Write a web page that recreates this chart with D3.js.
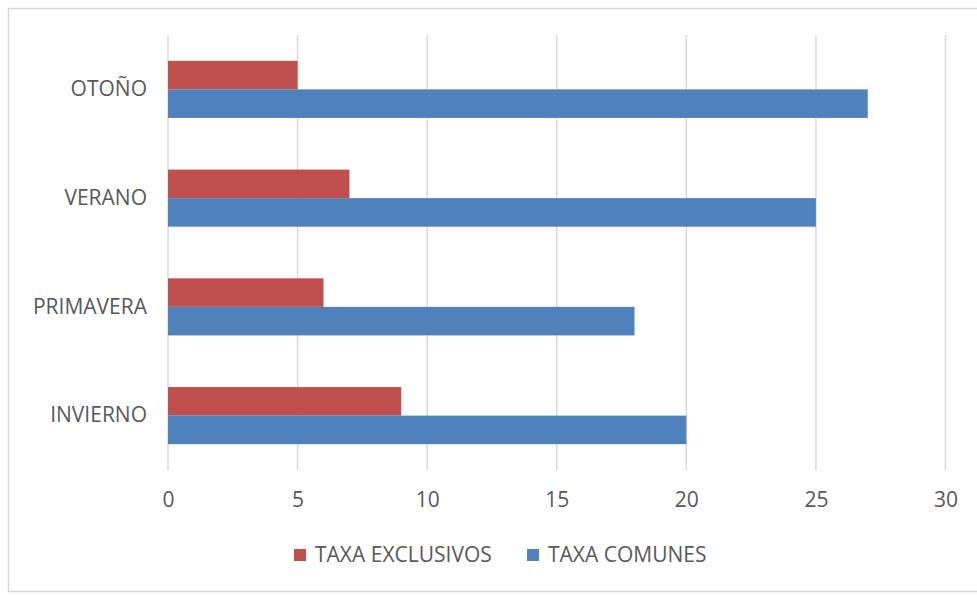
<!DOCTYPE html>
<html>
<head>
<meta charset="utf-8">
<script src="https://cdn.jsdelivr.net/npm/d3@7"></script>
<style>
  body { margin: 0; background: #fff; }
  text { font-family: "Open Sans", sans-serif; fill: #595959; }
</style>
</head>
<body>
<div id="chart"></div>
<script>
// setting up constants
const FRAME_WIDTH = 977;
const FRAME_HEIGHT = 595;
const MARGINS = {left: 168, right: 31, top: 35, bottom: 125};

const VIS_WIDTH = FRAME_WIDTH - MARGINS.left - MARGINS.right;
const VIS_HEIGHT = FRAME_HEIGHT - MARGINS.top - MARGINS.bottom;

// data
const seasons = ["OTOÑO", "VERANO", "PRIMAVERA", "INVIERNO"];
const exclusivos = [5, 7, 6, 9];
const comunes = [27, 25, 18, 20];
const seriesNames = ["TAXA EXCLUSIVOS", "TAXA COMUNES"];
const seriesColors = ["#C0504D", "#4F81BD"];
const xTicks = [0, 5, 10, 15, 20, 25, 30];

const FRAME = d3.select("#chart")
  .append("svg")
  .attr("width", FRAME_WIDTH)
  .attr("height", FRAME_HEIGHT);

// outer chart border
FRAME.append("rect")
  .attr("x", 8.5).attr("y", 8.5)
  .attr("width", FRAME_WIDTH + 10).attr("height", 583)
  .attr("fill", "none")
  .attr("stroke", "#D9D9D9")
  .attr("stroke-width", 1.5);

const g = FRAME.append("g")
  .attr("transform", "translate(" + MARGINS.left + "," + MARGINS.top + ")");

// scales
const xScale = d3.scaleLinear().domain([0, 30]).range([0, 777.5]);
const yScale = d3.scaleBand().domain(seasons).range([0, VIS_HEIGHT]).paddingInner(0.475).paddingOuter(0.2375);
const ySub = d3.scaleBand().domain(seriesNames).range([0, yScale.bandwidth()]);

// gridlines
g.selectAll(".grid")
  .data(xTicks)
  .enter()
  .append("line")
  .attr("x1", d => xScale(d)).attr("x2", d => xScale(d))
  .attr("y1", 0).attr("y2", VIS_HEIGHT)
  .attr("stroke", "#D9D9D9")
  .attr("stroke-width", 1.5);

// bars
const rows = seasons.map((s, i) => ({season: s, values: [exclusivos[i], comunes[i]]}));
const rowG = g.selectAll(".row")
  .data(rows)
  .enter()
  .append("g")
  .attr("transform", d => "translate(0," + yScale(d.season) + ")");

rowG.selectAll("rect")
  .data(d => d.values.map((v, j) => ({name: seriesNames[j], value: v, color: seriesColors[j]})))
  .enter()
  .append("rect")
  .attr("x", 0)
  .attr("y", d => ySub(d.name))
  .attr("width", d => xScale(d.value))
  .attr("height", ySub.bandwidth())
  .attr("fill", d => d.color);

// x axis labels
const xAxis = g.append("g")
  .attr("transform", "translate(0," + (VIS_HEIGHT + 30) + ")")
  .call(d3.axisBottom(xScale).tickValues(xTicks).tickSize(0).tickPadding(0));
xAxis.select(".domain").remove();
xAxis.selectAll("text")
  .attr("font-size", 21)
  .attr("font-family", "Open Sans, sans-serif")
  .attr("fill", "#595959")
  .attr("dy", "0.34em");

// y axis labels
const yAxis = g.append("g")
  .attr("transform", "translate(-21,0)")
  .call(d3.axisLeft(yScale).tickSize(0).tickPadding(0));
yAxis.select(".domain").remove();
yAxis.selectAll("text")
  .attr("font-size", 21)
  .attr("font-family", "Open Sans, sans-serif")
  .attr("fill", "#595959");

// legend
const legendX = [294, 527];
const legend = FRAME.selectAll(".legend")
  .data(seriesNames)
  .enter()
  .append("g")
  .attr("transform", (d, i) => "translate(" + legendX[i] + ",555)");
legend.append("rect")
  .attr("x", 0).attr("y", -6)
  .attr("width", 12).attr("height", 12)
  .attr("fill", (d, i) => seriesColors[i]);
legend.append("text")
  .attr("x", 21).attr("dy", "0.35em")
  .attr("font-size", 21)
  .text(d => d);
</script>
</body>
</html>
